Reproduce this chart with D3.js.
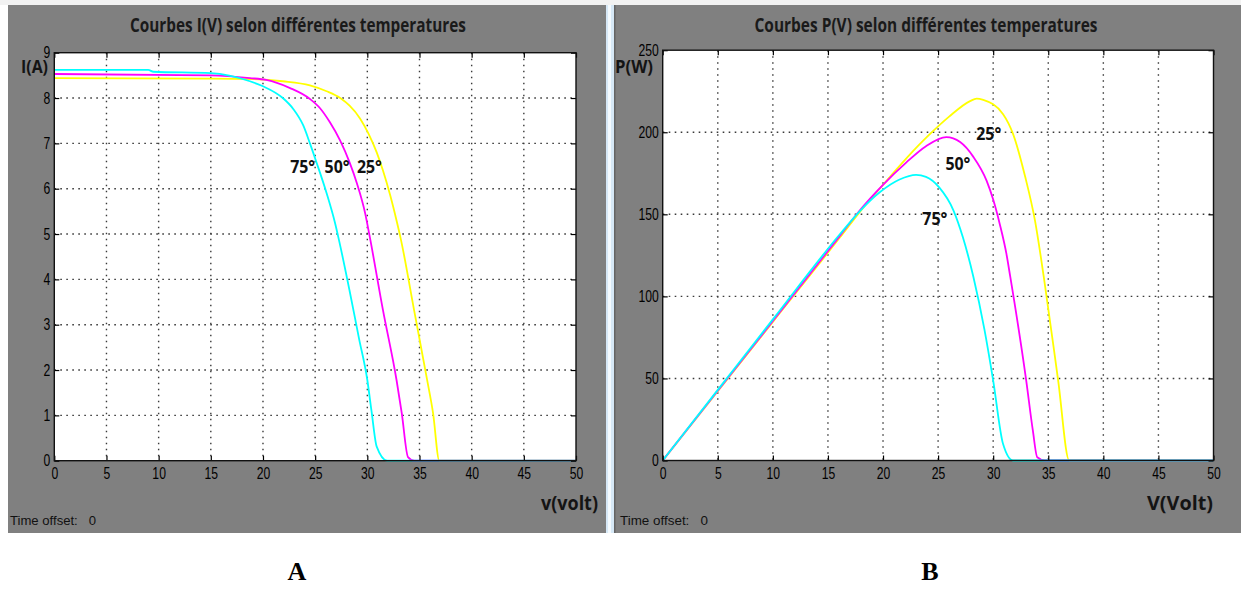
<!DOCTYPE html>
<html>
<head>
<meta charset="utf-8">
<script src="https://cdn.jsdelivr.net/npm/d3@7"></script>
<style>
  html, body { margin: 0; padding: 0; background: #fff; }
  svg { display: block; }
</style>
</head>
<body>
<svg id="fig" width="1241" height="605"></svg>
<script>
// ---- I(V) curves: panel A ----
const ivVolt25 = [0, 15, 18.75, 21.9, 24.5, 26.1, 27.4, 28.3, 29.3, 30.1, 30.9, 31.5, 32.2, 32.8, 33.2, 34.5, 35.7, 36.3, 36.9, 50];
const ivAmp25  = [8.44, 8.43, 8.42, 8.37, 8.28, 8.15, 8.0, 7.83, 7.55, 7.22, 6.8, 6.4, 5.85, 5.3, 4.9, 3.3, 1.82, 1.05, 0, 0];

const ivVolt50 = [0, 15, 18.75, 20.3, 22.6, 24.5, 25.45, 26.4, 27.4, 28.3, 29.0, 29.8, 30.2, 31.5, 32.8, 33.3, 33.9, 34.5, 50];
const ivAmp50  = [8.53, 8.5, 8.44, 8.4, 8.22, 7.98, 7.78, 7.47, 7.06, 6.58, 6.12, 5.45, 4.98, 3.32, 1.78, 1.05, 0.08, 0, 0];

const ivVolt75 = [0, 9, 9.5, 15, 18.75, 20, 21.9, 22.9, 23.85, 24.5, 25.1, 26.1, 26.9, 27.3, 28.3, 29.2, 30.0, 30.4, 30.9, 31.9, 50];
const ivAmp75  = [8.62, 8.62, 8.58, 8.55, 8.37, 8.26, 8.0, 7.76, 7.4, 7.0, 6.6, 5.9, 5.25, 4.85, 3.75, 2.7, 1.78, 1.1, 0.31, 0, 0];

// ---- P(V) curves: panel B ----
const pvVolt25 = [0, 5, 10, 16.1, 17.9, 20.0, 22.1, 24.2, 26.0, 27.9, 28.5, 29.1, 30.9, 31.8, 32.9, 33.8, 34.6, 35.9, 36.9, 50];
const pvWatt25 = [0, 42.2, 84.5, 136, 151.5, 168, 184, 198.5, 209.5, 219, 220.5, 219.7, 211, 199, 173, 146, 111.6, 48.7, 0, 0];

const pvVolt50 = [0, 5, 10, 16.1, 17.9, 20.0, 22.1, 23.9, 25.75, 27.0, 28.2, 29.4, 30.0, 30.6, 31.2, 31.55, 33.0, 33.6, 34.0, 34.7, 50];
const pvWatt50 = [0, 42.6, 85, 137, 152.5, 168, 181.5, 191.5, 197, 194, 185, 170.5, 159, 144, 126, 112, 48.7, 18.3, 2, 0, 0];

const pvVolt75 = [0, 5, 10, 16.1, 17.9, 19.7, 21.5, 23.0, 23.9, 25.1, 26.4, 27.25, 28.2, 29.2, 30.0, 30.9, 31.8, 50];
const pvWatt75 = [0, 43, 86, 138, 152, 163.4, 171.2, 174, 172.8, 166.4, 152.3, 136, 112, 80, 48.7, 10, 0, 0];

// ---- ticks and labels ----
const voltTicks = [0, 5, 10, 15, 20, 25, 30, 35, 40, 45, 50];
const ampTicks = [0, 1, 2, 3, 4, 5, 6, 7, 8, 9];
const wattTicks = [0, 50, 100, 150, 200, 250];
const tempNames = ["25°", "50°", "75°"];
const tempColors = ["#ffff00", "#ff00ff", "#00ffff"];

const SANS = "'Liberation Sans', Arial, sans-serif";
const TITLE_FONT = "'Open Sans', Lato, sans-serif";
const SQUEEZE = 0.76;   // horizontal squeeze for the scope's narrow lettering

const svg = d3.select("#fig");

// window strip and scope frames
svg.append("rect").attr("x", 0).attr("y", 0).attr("width", 1241).attr("height", 5).attr("fill", "#f2f2f2");
svg.append("rect").attr("x", 8).attr("y", 5).attr("width", 598).attr("height", 528).attr("fill", "#808080");
svg.append("rect").attr("x", 606).attr("y", 5).attr("width", 8).attr("height", 528).attr("fill", "#d6e8f6");
svg.append("rect").attr("x", 608).attr("y", 5).attr("width", 3).attr("height", 528).attr("fill", "#f4fafe");
svg.append("rect").attr("x", 614).attr("y", 5).attr("width", 627).attr("height", 528).attr("fill", "#808080");
svg.append("rect").attr("x", 614).attr("y", 5).attr("width", 1.5).attr("height", 528).attr("fill", "#646464");

function drawScope(cfg) {
  const g = svg.append("g");
  const x = d3.scaleLinear().domain([0, 50]).range([cfg.left, cfg.right]);
  const y = d3.scaleLinear().domain([0, cfg.yMax]).range([cfg.bottom, cfg.top]);

  // plot area
  g.append("rect")
    .attr("x", cfg.left).attr("y", cfg.top)
    .attr("width", cfg.right - cfg.left).attr("height", cfg.bottom - cfg.top)
    .attr("fill", "#fff");

  // dotted grid
  const grid = g.append("g").attr("stroke", "#3a3a3a").attr("stroke-width", 1.4)
    .attr("stroke-dasharray", "1.6,4.4");
  grid.selectAll(".gx").data(voltTicks.slice(1, -1)).join("line")
    .attr("x1", d => x(d)).attr("x2", d => x(d))
    .attr("y1", cfg.top).attr("y2", cfg.bottom);
  grid.selectAll(".gy").data(cfg.yTicks.slice(1, -1)).join("line")
    .attr("x1", cfg.left).attr("x2", cfg.right)
    .attr("y1", d => y(d)).attr("y2", d => y(d));

  // curves
  const line = d3.line().x(d => x(d[0])).y(d => y(d[1])).curve(d3.curveMonotoneX);
  cfg.series.forEach((s, i) => {
    const pts = s.v.map((v, k) => [v, s.val[k]]);
    g.append("path").datum(pts)
      .attr("d", line)
      .attr("fill", "none")
      .attr("stroke", tempColors[i])
      .attr("stroke-width", 1.8)
      .attr("stroke-linejoin", "round");
  });

  // axes with inward ticks (bottom/left labelled, top/right bare)
  const axisStyle = sel => {
    sel.select(".domain").remove();
    sel.selectAll(".tick line").attr("stroke", "#000").attr("stroke-width", 1.2);
    sel.selectAll(".tick text")
      .attr("fill", "#000")
      .attr("transform", `scale(${SQUEEZE},1)`)
      .style("font-family", SANS)
      .style("font-size", "16px");
  };
  g.append("g").attr("transform", `translate(0,${cfg.bottom})`)
    .call(d3.axisBottom(x).tickValues(voltTicks).tickSize(-5).tickPadding(7).tickFormat(d3.format("d")))
    .call(axisStyle);
  g.append("g").attr("transform", `translate(0,${cfg.top})`)
    .call(d3.axisTop(x).tickValues(voltTicks).tickSize(-5).tickFormat(""))
    .call(axisStyle);
  g.append("g").attr("transform", `translate(${cfg.left},0)`)
    .call(d3.axisLeft(y).tickValues(cfg.yTicks).tickSize(-5).tickPadding(3).tickFormat(d3.format("d")))
    .call(axisStyle)
    .call(sel => sel.selectAll(".tick text").attr("x", -4 / SQUEEZE));
  g.append("g").attr("transform", `translate(${cfg.right},0)`)
    .call(d3.axisRight(y).tickValues(cfg.yTicks).tickSize(-5).tickFormat(""))
    .call(axisStyle);

  // frame
  g.append("rect")
    .attr("x", cfg.left).attr("y", cfg.top)
    .attr("width", cfg.right - cfg.left).attr("height", cfg.bottom - cfg.top)
    .attr("fill", "none").attr("stroke", "#111").attr("stroke-width", 1.4);

  // title
  g.append("text")
    .attr("x", cfg.titleX).attr("y", 32)
    .attr("text-anchor", "middle")
    .attr("textLength", cfg.titleW).attr("lengthAdjust", "spacingAndGlyphs")
    .style("font-family", TITLE_FONT).style("font-size", "19px").style("font-weight", 700)
    .attr("fill", "#1a1a1a")
    .text(cfg.title);

  // axis names
  g.append("text")
    .attr("x", cfg.yNameX).attr("y", cfg.yNameY)
    .attr("textLength", cfg.yNameW).attr("lengthAdjust", "spacingAndGlyphs")
    .style("font-family", TITLE_FONT).style("font-size", "17px").style("font-weight", 700)
    .attr("fill", "#141414")
    .text(cfg.yName);
  g.append("text")
    .attr("x", cfg.xNameX).attr("y", 510)
    .attr("textLength", cfg.xNameW).attr("lengthAdjust", "spacingAndGlyphs")
    .style("font-family", TITLE_FONT).style("font-size", "19px").style("font-weight", 700)
    .attr("fill", "#141414")
    .text(cfg.xName);

  g.append("text")
    .attr("x", cfg.frameX + 2).attr("y", 525)
    .attr("textLength", cfg.offsetW).attr("lengthAdjust", "spacingAndGlyphs")
    .style("font-family", SANS).style("font-size", "13.5px")
    .attr("fill", "#111")
    .text("Time offset:\u00a0\u00a0 0");

  // temperature tags
  cfg.tags.forEach((t, i) => {
    g.append("text")
      .attr("x", x(t[0]) - 12.5).attr("y", y(t[1]))
      .attr("textLength", 25).attr("lengthAdjust", "spacingAndGlyphs")
      .style("font-family", TITLE_FONT).style("font-size", "18px").style("font-weight", 700)
      .attr("fill", "#111")
      .text(tempNames[i]);
  });

  // panel letter
  svg.append("text")
    .attr("x", cfg.letterX).attr("y", 580)
    .attr("text-anchor", "middle")
    .style("font-family", "'Liberation Serif', 'Times New Roman', serif")
    .style("font-size", "26px").style("font-weight", 700)
    .attr("fill", "#000")
    .text(cfg.letter);
}

drawScope({
  left: 54.3, right: 576, top: 52.7, bottom: 460.7,
  yMax: 9, yTicks: ampTicks,
  series: [
    { v: ivVolt25, val: ivAmp25 },
    { v: ivVolt50, val: ivAmp50 },
    { v: ivVolt75, val: ivAmp75 }
  ],
  tags: [[30.2, 6.35], [27.1, 6.35], [23.8, 6.35]],
  title: "Courbes I(V) selon différentes temperatures", titleX: 298, titleW: 336,
  yName: "I(A)", yNameX: 21, yNameY: 73, yNameW: 27,
  xName: "v(volt)", xNameX: 541, xNameW: 57,
  frameX: 8, offsetW: 86, letter: "A", letterX: 297
});

drawScope({
  left: 662.7, right: 1213.5, top: 50.2, bottom: 460.5,
  yMax: 250, yTicks: wattTicks,
  series: [
    { v: pvVolt25, val: pvWatt25 },
    { v: pvVolt50, val: pvWatt50 },
    { v: pvVolt75, val: pvWatt75 }
  ],
  tags: [[29.6, 195.5], [26.8, 177], [24.7, 143.5]],
  title: "Courbes P(V) selon différentes temperatures", titleX: 926, titleW: 343,
  yName: "P(W)", yNameX: 615, yNameY: 73, yNameW: 38,
  xName: "V(Volt)", xNameX: 1147, xNameW: 66,
  frameX: 618, offsetW: 88, letter: "B", letterX: 930
});
</script>
</body>
</html>
